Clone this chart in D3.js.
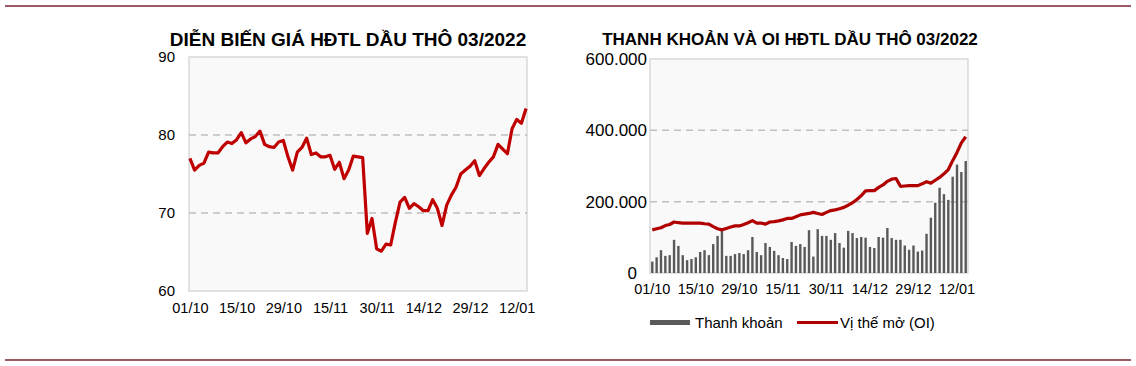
<!DOCTYPE html>
<html>
<head>
<meta charset="utf-8">
<script src="https://cdn.jsdelivr.net/npm/d3@7"></script>
<style>
  body { margin: 0; background: #fff; }
  svg { display: block; font-family: Arial, "Liberation Sans", sans-serif; }
</style>
</head>
<body>
<div class="charts"></div>
<script>
// x axis labels, shown every 10 trading days
const tickIndex = [0, 10, 20, 30, 40, 50, 60, 70];
const tickLabels = ['01/10', '15/10', '29/10', '15/11', '30/11', '14/12', '29/12', '12/01'];

// futures price (USD/bbl)
const price = [77.0, 75.5, 76.1, 76.4, 77.8, 77.7, 77.7, 78.5, 79.1, 78.9,
    79.4, 80.3, 79.0, 79.5, 79.8, 80.5, 78.8, 78.5, 78.4, 79.1,
    79.3, 77.2, 75.5, 77.8, 78.4, 79.6, 77.5, 77.7, 77.2, 77.2,
    77.4, 75.6, 76.5, 74.4, 75.5, 77.3, 77.2, 77.1, 67.4, 69.3,
    65.4, 65.1, 66.0, 65.9, 68.8, 71.4, 72.0, 70.6, 71.2, 70.8,
    70.3, 70.3, 71.7, 70.6, 68.4, 71.0, 72.3, 73.3, 75.0, 75.5,
    76.0, 76.7, 74.8, 75.7, 76.5, 77.2, 78.8, 78.2, 77.6, 80.8,
    82.0, 81.5, 83.4];

// volume (thanh khoan), contracts
const volume = [32, 44, 64, 48, 50, 93, 76, 50, 36, 39,
    44, 59, 64, 50, 81, 104, 120, 48, 48, 53,
    56, 53, 64, 101, 59, 50, 84, 73, 62, 50,
    42, 39, 87, 76, 81, 73, 120, 46, 123, 104,
    104, 93, 112, 84, 71, 118, 112, 98, 101, 99,
    73, 70, 101, 99, 126, 98, 93, 93, 77, 65,
    77, 60, 63, 110, 155, 197, 239, 221, 205, 270,
    304, 283, 314].map(v => v * 1000);

// open interest, contracts
const openInterest = [121, 124, 127, 133, 136, 143, 141, 140, 140, 140,
    140, 140, 138, 137, 130, 124, 121, 125, 129, 132,
    132, 136, 141, 147, 140, 140, 137, 143, 144, 146,
    149, 153, 153, 158, 163, 165, 167, 170, 167, 164,
    170, 175, 177, 180, 184, 190, 197, 206, 217, 230,
    231, 231, 240, 247, 257, 263, 265, 243, 244, 245,
    245, 245, 250, 256, 252, 260, 268, 278, 290, 315,
    338, 365, 382].map(v => v * 1000);

const priceTicks = [60, 70, 80, 90];
const oiTicks = [0, 200000, 400000, 600000];

function main() {
    const svg = d3.select('.charts')
        .append('svg')
        .attr('width', 1136)
        .attr('height', 366);

    // top and bottom rules
    [6, 360].forEach(y => {
        svg.append('line')
            .attr('x1', 5).attr('x2', 1131)
            .attr('y1', y).attr('y2', y)
            .attr('stroke', '#7a2530')
            .attr('stroke-width', 1.5);
    });

    const idx = price.map((d, i) => i);

    // ---------- left chart: price ----------
    const L = { left: 189, right: 527, top: 57, bottom: 291 };
    const xL = d3.scalePoint().domain(idx).range([L.left, L.right]).padding(0.2);
    const yL = d3.scaleLinear().domain([60, 90]).range([L.bottom, L.top]);

    svg.append('text')
        .attr('x', 348).attr('y', 46)
        .attr('text-anchor', 'middle')
        .attr('font-size', 19).attr('font-weight', 'bold')
        .text('DIỄN BIẾN GIÁ HĐTL DẦU THÔ 03/2022');

    svg.append('rect')
        .attr('x', L.left).attr('y', L.top)
        .attr('width', L.right - L.left).attr('height', L.bottom - L.top)
        .attr('fill', '#f9f9f9')
        .attr('stroke', '#d9d9d9').attr('stroke-width', 1.5);

    svg.selectAll('.gridL')
        .data([70, 80])
        .enter()
        .append('line')
        .attr('x1', L.left).attr('x2', L.right)
        .attr('y1', d => yL(d)).attr('y2', d => yL(d))
        .attr('stroke', '#bfbfbf').attr('stroke-width', 1.5)
        .attr('stroke-dasharray', '7,5');

    const yAxisL = svg.append('g')
        .attr('transform', `translate(${L.left},0)`)
        .call(d3.axisLeft(yL).tickValues(priceTicks).tickSize(0).tickPadding(14));
    yAxisL.select('.domain').remove();
    yAxisL.selectAll('text').attr('font-size', 15).attr('fill', '#000').attr('font-family', 'Arial, "Liberation Sans", sans-serif');

    const xAxisL = svg.append('g')
        .attr('transform', `translate(0,${L.bottom})`)
        .call(d3.axisBottom(xL).tickValues(tickIndex)
            .tickFormat((d, i) => tickLabels[i]).tickSize(0).tickPadding(12));
    xAxisL.select('.domain').remove();
    xAxisL.selectAll('text').attr('font-size', 14.5).attr('fill', '#000').attr('font-family', 'Arial, "Liberation Sans", sans-serif');

    svg.append('path')
        .datum(price)
        .attr('d', d3.line().x((d, i) => xL(i)).y(d => yL(d)))
        .attr('fill', 'none')
        .attr('stroke', '#c00000')
        .attr('stroke-width', 3.2)
        .attr('stroke-linejoin', 'round');

    // ---------- right chart: volume and OI ----------
    const R = { left: 650, right: 968, top: 59, bottom: 273 };
    const xR = d3.scaleBand().domain(idx).range([R.left, R.right]).paddingInner(0.45).paddingOuter(0.25);
    const yR = d3.scaleLinear().domain([0, 600000]).range([R.bottom, R.top]);
    const fmt = d3.formatLocale({ decimal: ',', thousands: '.', grouping: [3], currency: ['', ''] }).format(',.0f');

    svg.append('text')
        .attr('x', 790).attr('y', 45)
        .attr('text-anchor', 'middle')
        .attr('font-size', 17).attr('font-weight', 'bold')
        .text('THANH KHOẢN VÀ OI HĐTL DẦU THÔ 03/2022');

    svg.append('rect')
        .attr('x', R.left).attr('y', R.top)
        .attr('width', R.right - R.left).attr('height', R.bottom - R.top)
        .attr('fill', '#f9f9f9')
        .attr('stroke', '#d9d9d9').attr('stroke-width', 1.5);

    svg.selectAll('.gridR')
        .data([200000, 400000])
        .enter()
        .append('line')
        .attr('x1', R.left).attr('x2', R.right)
        .attr('y1', d => yR(d)).attr('y2', d => yR(d))
        .attr('stroke', '#bfbfbf').attr('stroke-width', 1.5)
        .attr('stroke-dasharray', '7,5');

    const yAxisR = svg.append('g')
        .attr('transform', `translate(${R.left},0)`)
        .call(d3.axisLeft(yR).tickValues(oiTicks).tickFormat(fmt).tickSize(0).tickPadding(3));
    yAxisR.select('.domain').remove();
    yAxisR.selectAll('text').attr('font-size', 17).attr('fill', '#000').attr('font-family', 'Arial, "Liberation Sans", sans-serif')
        .attr('dx', d => d === 0 ? -10 : 0);

    const xAxisR = svg.append('g')
        .attr('transform', `translate(0,${R.bottom})`)
        .call(d3.axisBottom(xR).tickValues(tickIndex)
            .tickFormat((d, i) => tickLabels[i]).tickSize(0).tickPadding(11));
    xAxisR.select('.domain').remove();
    xAxisR.selectAll('text').attr('font-size', 14.5).attr('fill', '#000').attr('font-family', 'Arial, "Liberation Sans", sans-serif');

    svg.selectAll('.bar')
        .data(volume)
        .enter()
        .append('rect')
        .attr('x', (d, i) => xR(i))
        .attr('y', d => yR(d))
        .attr('width', xR.bandwidth())
        .attr('height', d => R.bottom - yR(d))
        .attr('fill', '#595959');

    svg.append('path')
        .datum(openInterest)
        .attr('d', d3.line().x((d, i) => xR(i) + xR.bandwidth() / 2).y(d => yR(d)))
        .attr('fill', 'none')
        .attr('stroke', '#b00000')
        .attr('stroke-width', 3.2)
        .attr('stroke-linejoin', 'round');

    // legend
    const lg = svg.append('g').attr('font-size', 15);
    lg.append('rect')
        .attr('x', 650).attr('y', 320)
        .attr('width', 40).attr('height', 5)
        .attr('fill', '#595959');
    lg.append('text').attr('x', 695).attr('y', 328).text('Thanh khoản');
    lg.append('line')
        .attr('x1', 797).attr('x2', 838)
        .attr('y1', 322.5).attr('y2', 322.5)
        .attr('stroke', '#b00000').attr('stroke-width', 3);
    lg.append('text').attr('x', 840).attr('y', 328).text('Vị thế mở (OI)');
}

main();
</script>
</body>
</html>
